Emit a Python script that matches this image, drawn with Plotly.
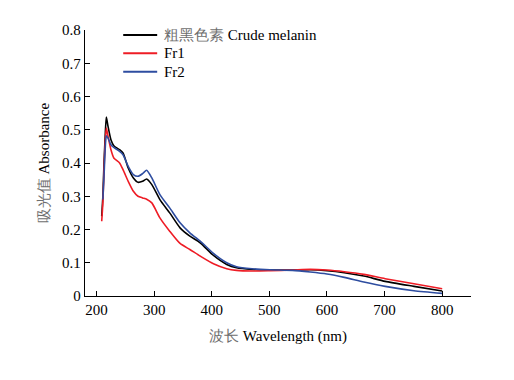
import plotly.graph_objects as go

wavelength = [209, 211, 213, 215, 217, 220, 225, 230, 240, 246, 255, 264, 272, 280, 287, 296,
              310, 327, 345, 362, 380, 403, 426, 443, 470, 501, 540, 571, 600, 630, 664, 701, 751, 800]
crude = [0.24, 0.30, 0.40, 0.48, 0.538, 0.51, 0.47, 0.452, 0.44, 0.43, 0.385, 0.355, 0.342, 0.345, 0.352, 0.335,
         0.29, 0.25, 0.205, 0.18, 0.16, 0.122, 0.095, 0.085, 0.08, 0.078, 0.078, 0.079, 0.076, 0.07, 0.06, 0.044, 0.029, 0.015]
fr1 = [0.225, 0.28, 0.38, 0.46, 0.505, 0.48, 0.44, 0.415, 0.40, 0.38, 0.345, 0.315, 0.30, 0.295, 0.291, 0.28,
       0.235, 0.195, 0.158, 0.14, 0.12, 0.097, 0.082, 0.077, 0.075, 0.076, 0.078, 0.08, 0.078, 0.073, 0.065, 0.052, 0.037, 0.022]
fr2 = [None, 0.29, 0.36, 0.44, 0.482, 0.475, 0.455, 0.447, 0.435, 0.425, 0.39, 0.365, 0.36, 0.368, 0.378, 0.355,
       0.305, 0.265, 0.22, 0.19, 0.165, 0.128, 0.10, 0.088, 0.082, 0.079, 0.077, 0.072, 0.066, 0.056, 0.042, 0.029, 0.016, 0.008]

CJK = "<span style=\"color:#6e6e6e\">%s</span>"
names = [CJK % "粗黑色素" + " Crude melanin", "Fr1", "Fr2"]
colors = ["#000000", "#ee1c25", "#2e4da0"]
series = [crude, fr1, fr2]

SERIF = "Liberation Serif"
FS = 15

fig = go.Figure()
for s, n, c in zip(series, names, colors):
    fig.add_trace(go.Scatter(x=wavelength, y=s, name=n, mode="lines", showlegend=False,
                             line=dict(color=c, width=1.6, shape="spline", smoothing=0.6)))

# legend drawn by hand in paper coordinates (tighter row spacing than plotly's legend)
leg_rows = [0.981, 0.9126, 0.8435]
for yy, n, c in zip(leg_rows, names, colors):
    fig.add_shape(type="line", xref="paper", yref="paper", x0=0.099, x1=0.187, y0=yy, y1=yy,
                  line=dict(color=c, width=2))
    fig.add_annotation(xref="paper", yref="paper", x=0.200, y=yy, text=n, showarrow=False,
                       xanchor="left", yanchor="middle", font=dict(size=FS, family=SERIF, color="#000"))

fig.update_layout(
    width=506, height=372,
    margin=dict(l=77, r=43, t=22, b=83.5),
    plot_bgcolor="white", paper_bgcolor="white",
    font=dict(family=SERIF, size=FS, color="#000000"),
    showlegend=False,
    xaxis=dict(range=[180, 850], tickvals=[200, 300, 400, 500, 600, 700, 800],
               ticks="inside", ticklen=5, tickcolor="#000", showline=True, linecolor="#000",
               linewidth=1.3, showgrid=False, zeroline=False, tickfont=dict(size=FS, family=SERIF),
               title=dict(text=CJK % "波长" + " Wavelength (nm)",
                          font=dict(size=FS, family=SERIF), standoff=13)),
    yaxis=dict(range=[0, 0.8], tickvals=[0, 0.1, 0.2, 0.3, 0.4, 0.5, 0.6, 0.7, 0.8],
               ticktext=["0", "0.1", "0.2", "0.3", "0.4", "0.5", "0.6", "0.7", "0.8"],
               ticks="inside", ticklen=5, tickcolor="#000", showline=True, linecolor="#000",
               linewidth=1.3, showgrid=False, zeroline=False, tickfont=dict(size=FS, family=SERIF),
               title=dict(text=CJK % "吸光值" + " Absorbance",
                          font=dict(size=FS, family=SERIF), standoff=8)),
)

fig.write_html("out.html")
